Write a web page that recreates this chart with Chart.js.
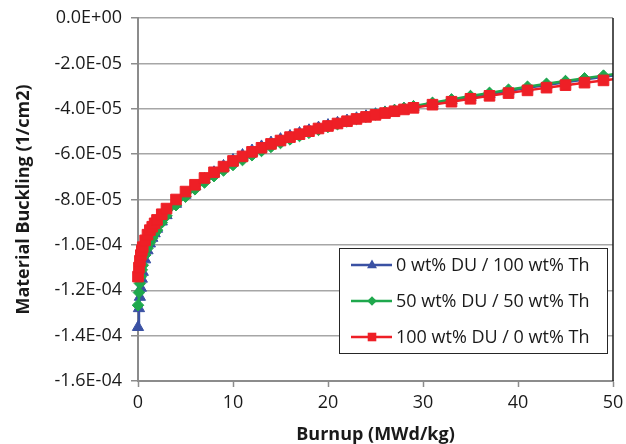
<!DOCTYPE html>
<html>
<head>
<meta charset="utf-8">
<script src="https://cdn.jsdelivr.net/npm/chart.js@4/dist/chart.umd.min.js"></script>
<style>
  body { margin: 0; background: #fff; }
  canvas { display: block; }
</style>
</head>
<body>
<canvas id="bucklingChart" width="626" height="444"></canvas>
<script>
// Burnup steps (MWd/kg) - last point lies past the axis end and gets clipped
const burnup = [0, 0.1, 0.2, 0.3, 0.4, 0.5, 0.75, 1, 1.25, 1.5, 1.75, 2, 2.5, 3,
    4, 5, 6, 7, 8, 9, 10, 11, 12, 13, 14, 15, 16, 17, 18, 19, 20, 21, 22, 23, 24, 25, 26, 27, 28, 29,
    31, 33, 35, 37, 39, 41, 43, 45, 47, 49, 51];

// Material buckling (1/cm2)
const buckling0DU = [-13.63e-5, -12.8e-5, -12.3e-5, -11.9e-5, -11.5e-5, -11.2e-5, -10.65e-5, -10.25e-5, -9.95e-5, -9.7e-5, -9.5e-5, -9.3e-5, -8.98e-5, -8.7e-5,
    -8.2e-5, -7.8e-5, -7.43e-5, -7.1e-5, -6.8e-5, -6.52e-5, -6.26e-5, -6.04e-5, -5.84e-5, -5.66e-5, -5.49e-5, -5.34e-5, -5.2e-5, -5.07e-5, -4.95e-5, -4.83e-5,
    -4.72e-5, -4.62e-5, -4.52e-5, -4.42e-5, -4.33e-5, -4.24e-5, -4.16e-5, -4.08e-5, -4.0e-5, -3.93e-5,
    -3.78e-5, -3.63e-5, -3.49e-5, -3.36e-5, -3.22e-5, -3.08e-5, -2.95e-5, -2.83e-5, -2.71e-5, -2.59e-5, -2.48e-5];

const buckling50DU = [-12.66e-5, -12.1e-5, -11.7e-5, -11.4e-5, -11.1e-5, -10.9e-5, -10.45e-5, -10.15e-5, -9.9e-5, -9.7e-5, -9.5e-5, -9.35e-5, -9.02e-5, -8.72e-5,
    -8.25e-5, -7.88e-5, -7.55e-5, -7.25e-5, -6.97e-5, -6.72e-5, -6.48e-5, -6.26e-5, -6.05e-5, -5.86e-5, -5.68e-5, -5.51e-5, -5.35e-5, -5.2e-5, -5.06e-5, -4.93e-5,
    -4.8e-5, -4.68e-5, -4.56e-5, -4.45e-5, -4.35e-5, -4.25e-5, -4.15e-5, -4.06e-5, -3.97e-5, -3.89e-5,
    -3.74e-5, -3.59e-5, -3.44e-5, -3.3e-5, -3.16e-5, -3.03e-5, -2.9e-5, -2.78e-5, -2.66e-5, -2.54e-5, -2.42e-5];

const buckling100DU = [-11.4e-5, -11.0e-5, -10.7e-5, -10.45e-5, -10.25e-5, -10.1e-5, -9.8e-5, -9.55e-5, -9.35e-5, -9.2e-5, -9.05e-5, -8.9e-5, -8.65e-5, -8.4e-5,
    -8.0e-5, -7.65e-5, -7.35e-5, -7.05e-5, -6.8e-5, -6.55e-5, -6.3e-5, -6.1e-5, -5.9e-5, -5.72e-5, -5.55e-5, -5.4e-5, -5.25e-5, -5.12e-5, -4.99e-5, -4.87e-5,
    -4.76e-5, -4.65e-5, -4.55e-5, -4.45e-5, -4.36e-5, -4.27e-5, -4.19e-5, -4.11e-5, -4.03e-5, -3.96e-5,
    -3.82e-5, -3.69e-5, -3.56e-5, -3.43e-5, -3.31e-5, -3.19e-5, -3.07e-5, -2.96e-5, -2.85e-5, -2.75e-5, -2.65e-5];

const seriesLabels = ['0 wt% DU / 100 wt% Th', '50 wt% DU / 50 wt% Th', '100 wt% DU / 0 wt% Th'];
const seriesColors = ['#3a51a3', '#1fa84d', '#ee1f26'];

const FONT = '"Open Sans", "DejaVu Sans", sans-serif';

function toPoints(values) {
    return burnup.map((x, i) => ({ x: x, y: values[i] }));
}

// 0.0E+00 style labels like Excel
function sciLabel(v) {
    const parts = Number(v).toExponential(1).split('e');
    const sign = parts[1][0];
    const exp = parts[1].slice(1).padStart(2, '0');
    return parts[0].toUpperCase() + 'E' + sign + exp;
}

// dark frame line on the right edge of the plot
const rightEdge = {
    id: 'rightEdge',
    afterDatasetsDraw(chart) {
        const { ctx, chartArea } = chart;
        ctx.save();
        ctx.strokeStyle = '#1a1a1a';
        ctx.lineWidth = 1.5;
        ctx.beginPath();
        ctx.moveTo(chartArea.right, chartArea.top);
        ctx.lineTo(chartArea.right, chartArea.bottom);
        ctx.stroke();
        ctx.restore();
    }
};

function drawMarker(ctx, style, x, y, r) {
    ctx.beginPath();
    if (style === 'triangle') {
        ctx.moveTo(x, y - r);
        ctx.lineTo(x + r * 0.9, y + r * 0.6);
        ctx.lineTo(x - r * 0.9, y + r * 0.6);
    } else if (style === 'rectRot') {
        ctx.moveTo(x, y - r);
        ctx.lineTo(x + r, y);
        ctx.lineTo(x, y + r);
        ctx.lineTo(x - r, y);
    } else {
        ctx.rect(x - r, y - r, 2 * r, 2 * r);
    }
    ctx.closePath();
    ctx.fill();
}

// boxed legend inside the plot, lower right
const boxLegend = {
    id: 'boxLegend',
    afterDraw(chart) {
        const { ctx, chartArea } = chart;
        const w = 268, h = 105;
        const left = chartArea.right - 6 - w;
        const top = chartArea.bottom - 28 - h;
        ctx.save();
        ctx.fillStyle = '#fff';
        ctx.fillRect(left, top, w, h);
        ctx.strokeStyle = '#262626';
        ctx.lineWidth = 1;
        ctx.strokeRect(left + 0.5, top + 0.5, w, h);
        ctx.font = '18px ' + FONT;
        ctx.textBaseline = 'middle';
        chart.data.datasets.forEach((ds, i) => {
            const y = top + 17 + i * 36;
            ctx.strokeStyle = ds.borderColor;
            ctx.lineWidth = 2.5;
            ctx.beginPath();
            ctx.moveTo(left + 12, y);
            ctx.lineTo(left + 53, y);
            ctx.stroke();
            ctx.fillStyle = ds.borderColor;
            const sizes = { triangle: 5.5, rectRot: 4.8, rect: 4.3 };
            drawMarker(ctx, ds.pointStyle, left + 33, y, sizes[ds.pointStyle]);
            ctx.fillStyle = '#1a1a1a';
            ctx.fillText(ds.label, left + 57, y + 1);
        });
        ctx.restore();
    }
};

function makeDataset(i, values, style, radius, order) {
    return {
        label: seriesLabels[i],
        data: toPoints(values),
        borderColor: seriesColors[i],
        backgroundColor: seriesColors[i],
        pointBackgroundColor: seriesColors[i],
        pointBorderColor: seriesColors[i],
        pointBorderWidth: 1,
        pointStyle: style,
        pointRadius: radius,
        borderWidth: 2.5,
        tension: 0,
        order: order,
        clip: { left: 12, top: 12, right: 0, bottom: 12 }
    };
}

function initChart() {
    const ctx = document.getElementById('bucklingChart').getContext('2d');
    new Chart(ctx, {
        type: 'line',
        data: {
            datasets: [
                makeDataset(0, buckling0DU, 'triangle', 6.5, 3),
                makeDataset(1, buckling50DU, 'rectRot', 5.8, 2),
                makeDataset(2, buckling100DU, 'rect', 7.5, 1)
            ]
        },
        options: {
            responsive: false,
            animation: false,
            layout: { padding: { top: 18, right: 13, left: 0, bottom: 0 } },
            plugins: {
                legend: { display: false },
                tooltip: { enabled: false }
            },
            scales: {
                x: {
                    type: 'linear',
                    min: 0,
                    max: 50,
                    ticks: {
                        stepSize: 10,
                        color: '#1a1a1a',
                        font: { family: FONT, size: 18 },
                        padding: 5,
                        maxRotation: 0
                    },
                    grid: {
                        drawOnChartArea: false,
                        drawTicks: true,
                        tickLength: 6,
                        tickColor: '#8c8c8c',
                        tickWidth: 1.5
                    },
                    border: { color: '#8c8c8c', width: 2 },
                    title: {
                        display: true,
                        text: 'Burnup (MWd/kg)',
                        color: '#1a1a1a',
                        font: { family: FONT, size: 18, weight: 'bold' },
                        padding: { top: 0, bottom: -2 }
                    },
                    afterFit(scale) {
                        scale.height = 63;
                        scale.paddingLeft = 0;
                        scale.paddingRight = 0;
                    }
                },
                y: {
                    min: -1.6e-4,
                    max: 0,
                    ticks: {
                        stepSize: 2e-5,
                        color: '#1a1a1a',
                        font: { family: FONT, size: 18 },
                        padding: 9,
                        callback: (v) => sciLabel(v)
                    },
                    grid: {
                        color: '#a6a6a6',
                        lineWidth: 1.5,
                        tickLength: 7,
                        tickColor: '#8c8c8c'
                    },
                    border: { color: '#8c8c8c', width: 2 },
                    title: {
                        display: true,
                        text: 'Material Buckling (1/cm2)',
                        color: '#1a1a1a',
                        font: { family: FONT, size: 18, weight: 'bold' },
                        padding: { top: 13, bottom: 0 }
                    },
                    afterFit(scale) {
                        scale.width = 138;
                        scale.paddingTop = 0;
                        scale.paddingBottom = 0;
                    }
                }
            }
        },
        plugins: [rightEdge, boxLegend]
    });
}

document.addEventListener('DOMContentLoaded', initChart);
</script>
</body>
</html>
